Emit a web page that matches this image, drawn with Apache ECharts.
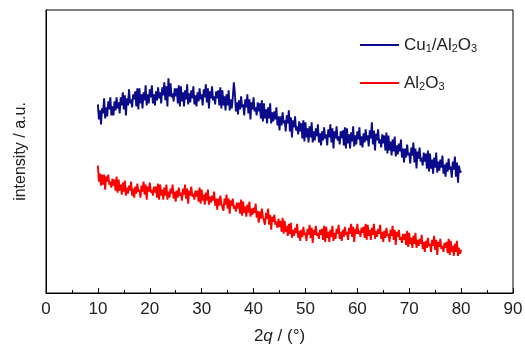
<!DOCTYPE html>
<html>
<head>
<meta charset="utf-8">
<script src="https://cdn.jsdelivr.net/npm/echarts@6/dist/echarts.min.js"></script>
<style>html,body{margin:0;padding:0;background:#fff}#c{width:525px;height:346px}</style>
</head>
<body>
<div id="c"></div>
<script>
// 2θ sampling grid: start and step (degrees)
var angleStart = 10;
var angleStep = 0.2;
var xTicks = [0, 10, 20, 30, 40, 50, 60, 70, 80, 90];
var seriesNames = ['Cu1/Al2O3', 'Al2O3'];

// Cu1/Al2O3 intensity (a.u.), 10°..80°, every 0.2° (5 values per degree)
var cuAl2O3 = [
188,173,182,168,184, 179,194,174,185,176, 191,183,195,177,186, 177,191,182,195,184,
190,179,195,187,200, 183,197,177,194,187, 203,189,193,185,198, 193,201,186,204,183,
204,189,198,184,200, 192,207,187,198,189, 203,195,207,189,198, 187,201,192,205,194,
200,189,205,197,210, 192,206,186,214,196, 209,195,199,191,204, 196,204,189,207,186,
206,191,200,186,202, 193,208,188,199,190, 202,194,206,188,197, 186,200,191,204,193,
198,187,203,195,208, 190,204,184,201,194, 206,192,196,188,201, 194,202,187,205,184,
202,187,196,182,198, 187,202,182,193,184, 195,210,199,181,190, 178,192,183,196,185,
188,177,193,185,198, 179,193,173,190,183, 195,181,185,177,190, 181,189,174,192,171,
189,174,183,169,185, 174,189,169,180,171, 181,173,185,167,176, 162,176,167,180,169,
172,161,177,169,182, 161,175,155,172,165, 176,162,166,158,171, 161,169,154,172,151,
170,155,164,150,166, 155,170,150,161,152, 164,156,168,150,159, 147,161,152,165,154,
158,147,163,155,168, 150,164,144,161,154, 166,152,156,148,161, 154,162,147,165,144,
164,149,158,144,160, 151,166,146,157,148, 161,153,165,147,156, 145,159,150,163,152,
157,146,162,154,170, 148,162,142,159,152, 163,149,153,145,158, 149,157,142,160,139,
157,142,151,137,153, 141,156,136,147,138, 149,141,153,135,144, 130,144,135,148,137,
140,129,145,137,150, 130,144,124,141,134, 145,131,135,127,140, 131,139,124,142,121,
139,124,133,119,135, 125,140,120,131,122, 133,125,137,119,128, 116,130,121,134,123,
126,115,131,123,136, 116,130,110,127,120,
122
];

// Al2O3 intensity (a.u.), 10°..80°, every 0.2° (5 values per degree)
var al2O3 = [
127,111,119,107,118, 108,118,103,116,111, 118,108,111,105,114, 107,113,102,116,100,
113,102,108,98,110, 101,112,97,105,99, 107,102,111,97,104, 95,106,99,109,101,
103,95,107,101,111, 98,108,93,106,101, 110,100,103,97,106, 100,106,95,109,93,
108,97,103,93,105, 97,108,93,101,95, 104,99,108,94,101, 91,102,95,105,97,
100,92,104,98,108, 94,104,89,102,97, 106,96,99,93,102, 96,102,91,105,89,
103,92,98,88,100, 92,103,88,96,90, 97,92,101,87,94, 83,94,87,97,89,
90,82,94,88,98, 84,94,79,92,87, 94,84,87,81,90, 84,90,79,93,77,
91,80,86,76,88, 80,91,76,84,78, 85,80,89,75,82, 70,81,74,84,76,
76,68,80,74,84, 68,78,63,76,71, 78,68,71,65,74, 66,72,61,75,59,
72,61,67,57,69, 59,70,55,63,57, 65,60,69,55,62, 52,63,56,66,58,
60,52,64,58,68, 55,65,50,63,58, 67,57,60,54,63, 58,64,53,67,51,
66,55,61,51,63, 56,67,52,60,54, 64,59,68,54,61, 52,63,56,66,58,
61,53,65,59,69, 56,66,51,64,59, 69,59,62,56,65, 60,66,55,69,53,
68,57,63,53,65, 58,69,54,62,56, 64,59,68,54,61, 51,62,55,65,57,
59,51,63,57,67, 53,63,48,61,56, 63,53,56,50,59, 53,59,48,62,46,
60,49,55,45,57, 49,60,45,53,47, 54,49,58,44,51, 41,52,45,55,47,
49,41,53,47,57, 43,53,38,51,46, 54,44,47,41,50, 45,51,40,54,38,
52,41,47,37,49, 41,52,37,45,39,
43
];

function pairs(vals) {
  var out = [];
  for (var i = 0; i < vals.length; i++) out.push([+(angleStart + i * angleStep).toFixed(2), vals[i]]);
  return out;
}

var FONT = "'Liberation Sans', Arial, sans-serif";
var chart = echarts.init(document.getElementById('c'), null, {renderer: 'canvas'});
chart.setOption({
  animation: false,
  backgroundColor: '#fff',
  textStyle: {fontFamily: FONT},
  grid: {left: 46, right: 12, top: 10, bottom: 53, containLabel: false, outerBoundsMode: 'none',
         show: true, borderColor: '#000', borderWidth: 1, backgroundColor: 'transparent'},
  legend: {
    left: 360, top: 35, orient: 'vertical', itemGap: 18, padding: 0,
    icon: 'rect', itemWidth: 39, itemHeight: 2,
    data: seriesNames,
    formatter: function (n) {
      return n === 'Cu1/Al2O3' ? 'Cu{s|1}/Al{s|2}O{s|3}' : 'Al{s|2}O{s|3}';
    },
    textStyle: {
      fontFamily: FONT, fontSize: 17, color: '#222', lineHeight: 20,
      rich: {s: {fontFamily: FONT, fontSize: 11, color: '#222', lineHeight: 20, padding: [8,0,0,0]}}
    }
  },
  xAxis: {
    type: 'value', min: xTicks[0], max: xTicks[xTicks.length - 1], interval: 10,
    name: '2{i|q} / (°)', nameLocation: 'middle', nameGap: 35,
    nameTextStyle: {fontFamily: FONT, fontSize: 17, color: '#222',
      rich: {i: {fontFamily: FONT, fontSize: 17, fontStyle: 'italic', color: '#222'}}},
    axisLine: {show: true, onZero: false, lineStyle: {color: '#000', width: 1}},
    axisTick: {show: true, inside: true, length: 5, lineStyle: {color: '#000'}},
    minorTick: {show: true, splitNumber: 2, length: 3, lineStyle: {color: '#000'}},
    axisLabel: {fontFamily: FONT, fontSize: 17, color: '#222', margin: 8},
    splitLine: {show: false}
  },
  yAxis: {
    type: 'value', min: 0, max: 282,
    name: 'intensity / a.u.', nameLocation: 'middle', nameGap: 17,
    nameTextStyle: {fontFamily: FONT, fontSize: 16, color: '#222'},
    axisLine: {show: true, lineStyle: {color: '#000', width: 1}},
    axisTick: {show: false}, axisLabel: {show: false}, splitLine: {show: false}
  },
  series: [
    {name: seriesNames[0], type: 'line', showSymbol: false, symbol: 'none', data: pairs(cuAl2O3),
     color: '#0a0a8a', lineStyle: {color: '#0a0a8a', width: 1.9}},
    {name: seriesNames[1], type: 'line', showSymbol: false, symbol: 'none', data: pairs(al2O3),
     color: '#ff0000', lineStyle: {color: '#ff0000', width: 1.9}}
  ]
});
</script>
</body>
</html>
